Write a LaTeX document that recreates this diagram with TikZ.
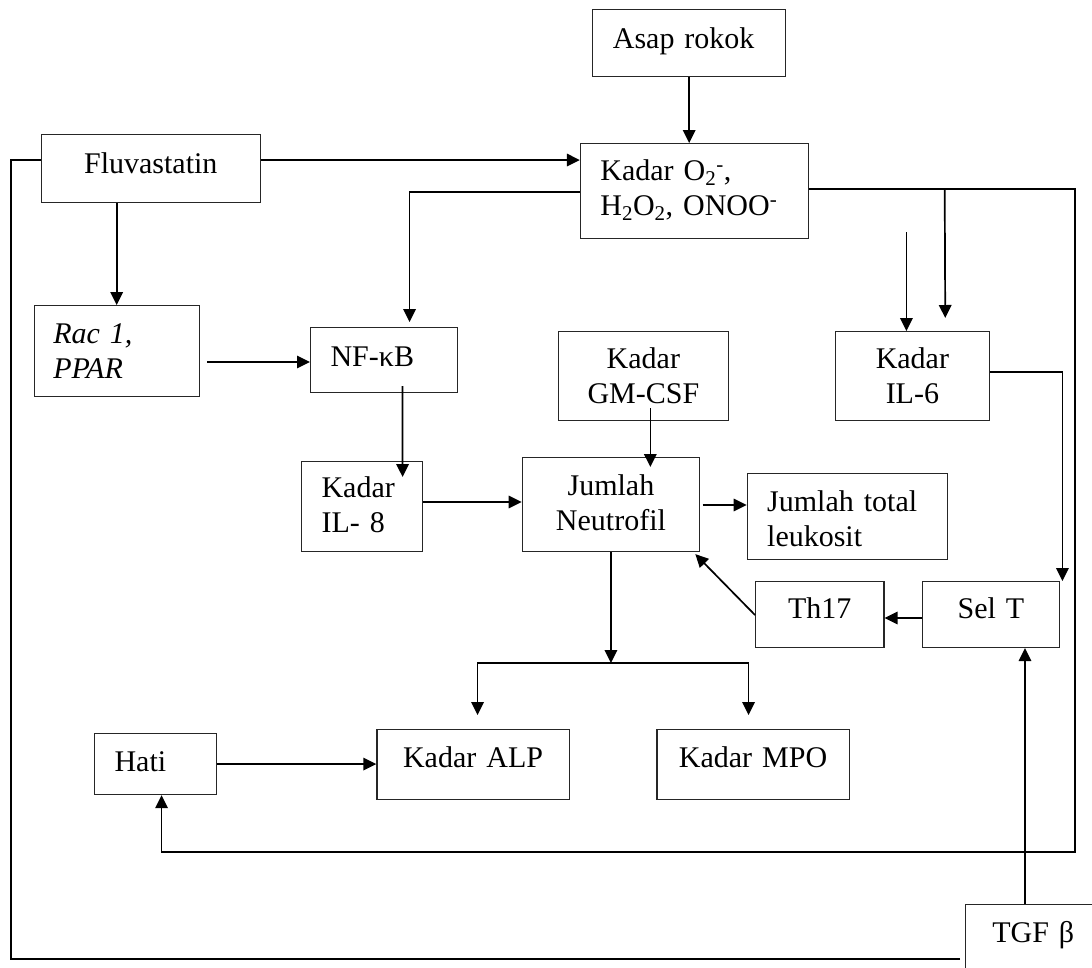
\documentclass[tikz,border=0pt]{standalone}
\usepackage{fontspec}
\setmainfont{Liberation Serif}
\usetikzlibrary{arrows.meta}
\newcommand\bigfs{\fontsize{30}{35}\selectfont}
\tikzset{
  box/.style={draw=black!85, line width=1.1pt, rectangle, inner ysep=0pt, anchor=north west, font=\bigfs},
  lbox/.style n args={4}{box, text width=#1pt-2*#4pt, inner xsep=#4pt, align=left, text height=#3pt, text depth=#2pt-#3pt},
  cbox/.style n args={3}{box, text width=#1pt, inner xsep=0pt, align=center, text height=#3pt, text depth=#2pt-#3pt},
  conn/.style={line width=1.7pt, black},
  arr/.style={conn, -{Triangle[length=13pt,width=12.5pt]}},
}
\begin{document}
\begin{tikzpicture}[x=1pt,y=-1pt]
\useasboundingbox (0,0) rectangle (1092,967);

% boxes: lbox={W}{H}{baseline offset}{pad}, cbox={W}{H}{baseline offset}
\node[lbox={192.6}{67}{39}{20}] (asap) at (592.3,9) {Asap rokok};
\node[lbox={228.4}{95}{37}{20}] (ros) at (579.8,143) {Kadar O\textsubscript{2}\textsuperscript{-},\\H\textsubscript{2}O\textsubscript{2}, ONOO\textsuperscript{-}};
\node[cbox={219.1}{68}{39}] (flu) at (40.7,134) {Fluvastatin};
\node[lbox={164.7}{91}{38}{19}] (rac) at (33.8,305) {\textit{Rac 1,}\\\textit{PPAR}};
\node[lbox={147}{65}{39}{20}] (nf) at (310,327) {NF-κB};
\node[cbox={170}{89}{37}] (gm) at (557.8,331) {Kadar\\GM-CSF};
\node[cbox={154.3}{89}{37}] (il6) at (834.7,331) {Kadar\\IL-6};
\node[lbox={120.7}{90}{36}{20}] (il8) at (301,461) {Kadar\\IL- 8};
\node[cbox={177.6}{94}{38}] (neu) at (521.6,457) {Jumlah\\Neutrofil};
\node[lbox={200.2}{86}{38}{20}] (leu) at (746.6,473) {Jumlah total\\leukosit};
\node[cbox={128.4}{66}{37}] (th) at (755,581) {Th17};
\node[cbox={137.3}{66}{37}] (selt) at (921.7,581) {Sel T};
\node[lbox={122}{61}{38}{20}] (hati) at (94,733) {Hati};
\node[cbox={192.2}{70}{38}] (alp) at (376.4,729) {Kadar ALP};
\node[cbox={192.2}{70}{38}] (mpo) at (656.4,729) {Kadar MPO};
\node[lbox={160}{70}{38}{26.7}] (tgf) at (965,904) {TGF β};

% helper coordinates
\coordinate (racout) at (207,362);
\coordinate (neuout) at (702.7,505);
\coordinate (br) at (neu.south |- 0,663);
\coordinate (alpin) at ([xshift=4.5pt,yshift=14pt]alp.north);
\coordinate (mpoin) at ([xshift=-4.5pt,yshift=14pt]mpo.north);
\coordinate (bj) at (944.7,189);
\coordinate (fr) at (906.4,232);
\coordinate (tx) at (1025,0);
\coordinate (bl) at (960,959);
\coordinate (lc) at (10.8,160);

% connectors
\draw[arr] (asap.south) -- (asap.south |- ros.north);
\draw[arr] (flu.east |- 0,160) -- (ros.west |- 0,160);
\draw[arr] (flu.south -| rac.north) -- (rac.north);
\draw[arr] (racout) -- (nf.west |- racout);
\draw[arr] (ros.west |- 0,192) -| ([xshift=25.5pt,yshift=5pt]nf.north);
\draw[arr] ([xshift=18.5pt,yshift=7pt]nf.south) -- ([xshift=40.7pt,yshift=-16pt]il8.north);
\draw[arr] (il8.east |- 0,502) -- (neu.west |- 0,502);
\draw[arr] ([xshift=7pt,yshift=13pt]gm.south) -- ([xshift=39.4pt,yshift=-10pt]neu.north);
\draw[arr] (neuout) -- (leu.west |- neuout);
\draw[arr] (neu.south) -- (br);
\draw[arr] (br) -| (alpin);
\draw[arr] (br) -| (mpoin);
\draw[arr] (ros.east |- 0,189) -| (1075,852) -| ([xshift=6pt]hati.south);
\draw[arr] (bj) -- ([xshift=32.85pt,yshift=13pt]il6.north);
\draw[arr] (fr) -- (fr |- il6.north);
\draw[arr] (il6.east |- 0,372) -| ([xshift=2.3pt]selt.north east);
\draw[arr] (selt.west |- 0,618) -- (th.east |- 0,618);
\draw[arr] (th.west |- 0,615) -- ([xshift=-5pt,yshift=-2pt]neu.south east);
\draw[arr] (tgf.north -| tx) -- (selt.south -| tx);
\draw[arr] (hati.east) -- (alp.west |- hati.east);
\draw[conn] (bl) -| (lc) -- (flu.west |- lc);
\end{tikzpicture}
\end{document}
